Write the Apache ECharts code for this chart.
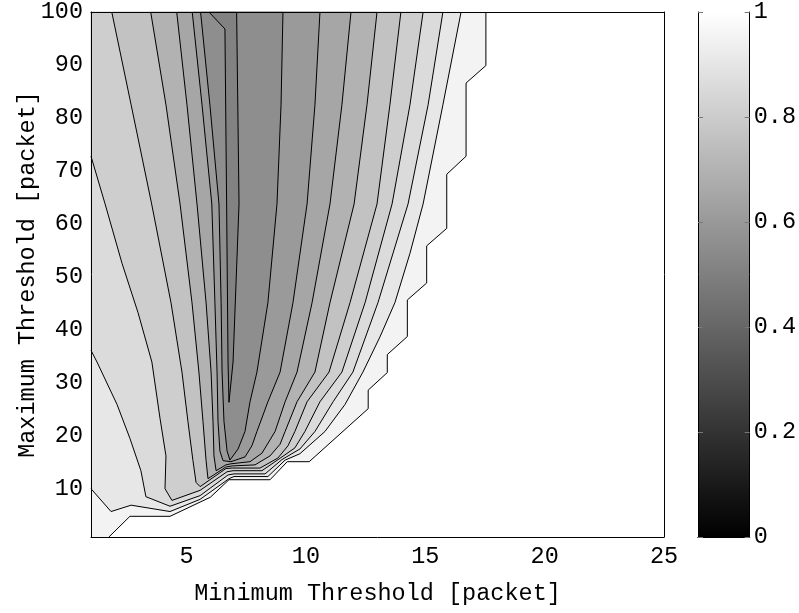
<!DOCTYPE html>
<html><head><meta charset="utf-8">
<script src="https://cdn.jsdelivr.net/npm/echarts@6/dist/echarts.min.js"></script>
<style>html,body{margin:0;padding:0;background:#fff}#c{width:799px;height:613px}</style>
</head><body><div id="c"></div>
<script>
// ---------- data (data coordinates) ----------
const xTicks = [5, 10, 15, 20, 25];
const yTicks = [10, 20, 30, 40, 50, 60, 70, 80, 90, 100];
const xRange = [1, 25];
const yRange = [1, 100];
const cbTicks = [0, 0.2, 0.4, 0.6, 0.8, 1];

// edge of the region that has data (white = no data beyond it)
const dataEdge = [[1.75,1],[2.63,4.9],[4.31,4.9],[6.0,8.5],[6.78,11.8],[8.50,11.8],[9.22,15.2],[10.14,15.2],[12.61,25.2],[12.61,28.7],[13.41,32.0],[13.41,35.4],[14.25,38.8],[14.25,45.7],[15.06,48.9],[15.06,55.9],[15.90,59.2],[15.90,69.4],[16.71,72.8],[16.71,86.6],[17.54,89.9],[17.54,100]];

// contour levels and their traced lines (left branch -> bottom -> right branch)
const levels = [0.55, 0.6, 0.65, 0.7, 0.75, 0.8, 0.85, 0.9, 0.95];
const c055 = [[5.94,100],[6.61,96.8],[6.68,63.8],[6.74,34.0],[6.78,26.4],[6.95,34.0],[7.20,63.8],[7.10,100]];
const c060 = [[5.59,100],[5.98,82.5],[6.36,63.8],[6.45,45.2],[6.49,32.1],[6.57,22.8],[6.70,17.2],[6.82,15.5],[7.16,17.6],[7.45,20.9],[7.66,26.5],[7.95,32.1],[8.41,45.2],[8.79,63.8],[8.96,82.5],[9.04,100]];
const c065 = [[5.24,100],[5.65,82.5],[6.06,63.8],[6.19,45.2],[6.28,32.1],[6.32,22.8],[6.40,17.2],[6.53,15.4],[6.86,15.2],[7.45,16.1],[7.74,18.2],[7.95,20.9],[8.41,26.5],[8.92,32.1],[9.46,45.2],[10.05,63.8],[10.38,82.5],[10.59,100]];
const c070 = [[4.59,100],[5.02,82.5],[5.44,63.8],[5.82,45.2],[6.03,32.1],[6.11,22.8],[6.15,16.3],[6.24,13.5],[6.65,14.6],[6.86,14.8],[7.66,15.2],[8.16,16.8],[8.71,20.9],[9.13,26.5],[9.63,32.1],[10.26,45.2],[11.01,63.8],[11.51,82.5],[11.89,100]];
const c075 = [[3.50,100],[4.14,82.5],[4.73,63.8],[5.23,45.2],[5.52,32.1],[5.69,22.8],[5.82,15.4],[5.90,12.0],[6.65,14.2],[6.91,14.4],[7.87,14.6],[8.50,16.3],[8.92,18.5],[9.13,20.9],[9.63,26.5],[10.38,32.1],[11.01,45.2],[12.02,63.8],[12.56,82.5],[12.98,100]];
const c080 = [[1.87,100],[2.68,82.5],[3.54,63.8],[4.35,45.2],[4.81,32.1],[5.06,22.8],[5.27,15.4],[5.40,11.3],[5.57,10.5],[6.65,13.9],[6.91,14.0],[8.08,14.0],[8.83,15.9],[9.25,18.2],[9.54,20.9],[10.05,26.5],[10.97,32.1],[11.85,45.2],[12.98,63.8],[13.52,82.5],[13.98,100]];
const c085 = [[1,72.8],[1.59,63.8],[2.30,52.6],[2.97,43.3],[3.55,34.0],[3.89,23.4],[4.14,16.3],[4.10,10.1],[4.39,7.9],[5.57,9.8],[6.70,13.3],[6.95,13.5],[8.16,13.5],[8.92,15.85],[9.54,17.8],[9.96,20.9],[10.59,26.5],[11.51,32.1],[12.48,45.2],[13.61,63.8],[14.36,82.5],[14.91,100]];
const c090 = [[1,36.2],[1.25,34.0],[2.09,26.0],[2.63,19.6],[3.09,13.5],[3.30,8.6],[4.31,6.8],[5.57,8.8],[6.74,12.7],[6.99,12.9],[8.29,12.9],[9.0,15.6],[9.75,17.6],[10.38,20.9],[11.14,26.5],[11.97,32.1],[13.02,45.2],[14.28,63.8],[15.12,82.5],[15.74,100]];
const c095 = [[1,10.1],[1.84,5.8],[2.68,7.0],[4.31,5.8],[5.57,8.1],[6.78,12.0],[6.99,12.4],[8.41,12.4],[9.13,15.5],[9.75,16.7],[10.80,20.9],[11.64,26.0],[12.39,32.1],[13.10,38.7],[13.73,45.2],[14.36,54.5],[14.91,63.8],[15.74,82.5],[16.50,100]];
const contours = [c055, c060, c065, c070, c075, c080, c085, c090, c095];

// ---------- build drawing lists ----------
const FONT = '"Liberation Mono", "DejaVu Sans Mono", monospace';
function gray(v) { // MATLAB-like gray(64) colormap, caxis [0,1]
  const idx = Math.min(63, Math.floor(v * 64 + 1e-9));
  const g = Math.round(idx / 63 * 255);
  return 'rgb(' + g + ',' + g + ',' + g + ')';
}
const step = 0.05;
function closeTop(arr) {
  if (arr[0][0] === xRange[0] && arr[0][1] < yRange[1]) return [[xRange[0], yRange[1]]].concat(arr);
  return arr.slice();
}
const fills = [];
fills.push({ poly: [[xRange[0], yRange[0]]].concat(dataEdge, [[xRange[0], yRange[1]]]), color: gray(levels[levels.length - 1]) });
for (let k = contours.length - 1; k >= 0; k--) {
  fills.push({ poly: closeTop(contours[k]), color: gray(levels[k] - step) });
}
const strokes = contours.concat([dataEdge]);

const chart = echarts.init(document.getElementById('c'));
const axisText = { fontFamily: FONT, fontSize: 23.5, color: '#000' };
chart.setOption({
  animation: false,
  backgroundColor: '#fff',
  grid: [
    { left: 91, top: 6, width: 573, height: 531 },
    { left: 698, top: 6, width: 52, height: 531 }
  ],
  xAxis: [
    { gridIndex: 0, type: 'value', min: xRange[0], max: xRange[1], z: 10,
      axisLine: { show: true, lineStyle: { color: '#000', width: 1 } },
      axisTick: { show: false }, splitLine: { show: false },
      axisLabel: Object.assign({ customValues: xTicks, margin: 8 }, axisText),
      name: 'Minimum Threshold [packet]', nameLocation: 'middle', nameGap: 45,
      nameMoveOverlap: false, nameTextStyle: axisText },
    { gridIndex: 0, type: 'value', min: xRange[0], max: xRange[1], position: 'top', z: 10,
      axisLine: { show: true, lineStyle: { color: '#000', width: 1 } },
      axisTick: { show: false }, axisLabel: { show: false }, splitLine: { show: false } },
    { gridIndex: 1, type: 'category', data: [''], position: 'bottom', z: 10,
      axisLine: { show: true, lineStyle: { color: '#000', width: 1 } },
      axisTick: { show: false }, axisLabel: { show: false } },
    { gridIndex: 1, type: 'category', data: [''], position: 'top', z: 10,
      axisLine: { show: true, lineStyle: { color: '#000', width: 1 } },
      axisTick: { show: false }, axisLabel: { show: false } }
  ],
  yAxis: [
    { gridIndex: 0, type: 'value', min: yRange[0], max: yRange[1], z: 10,
      axisLine: { show: true, lineStyle: { color: '#000', width: 1 } },
      axisTick: { show: false }, splitLine: { show: false },
      axisLabel: Object.assign({ customValues: yTicks, margin: 8 }, axisText),
      name: 'Maximum Threshold [packet]', nameLocation: 'middle', nameGap: 51, nameRotate: 90,
      nameMoveOverlap: false, nameTextStyle: axisText },
    { gridIndex: 0, type: 'value', min: yRange[0], max: yRange[1], position: 'right', z: 10,
      axisLine: { show: true, lineStyle: { color: '#000', width: 1 } },
      axisTick: { show: false }, axisLabel: { show: false }, splitLine: { show: false } },
    { gridIndex: 1, type: 'value', min: 0, max: 1, interval: 0.2, position: 'right', z: 10,
      axisLine: { show: true, lineStyle: { color: '#000', width: 1 } },
      axisTick: { show: true, inside: true, length: 5, lineStyle: { color: '#777' } },
      splitLine: { show: false },
      axisLabel: Object.assign({ margin: 4 }, axisText) },
    { gridIndex: 1, type: 'value', min: 0, max: 1, interval: 0.2, position: 'left', z: 10,
      axisLine: { show: true, lineStyle: { color: '#000', width: 1 } },
      axisTick: { show: true, inside: true, length: 5, lineStyle: { color: '#777' } },
      splitLine: { show: false }, axisLabel: { show: false } }
  ],
  series: [
    { type: 'custom', xAxisIndex: 0, yAxisIndex: 0, z: 1, silent: true,
      data: fills.map((f, i) => i),
      renderItem: function (params, api) {
        const it = fills[params.dataIndex];
        return { type: 'polygon', shape: { points: it.poly.map(p => api.coord(p)) },
          style: { fill: it.color, stroke: it.color, lineWidth: 0.5 } };
      } },
    { type: 'custom', xAxisIndex: 0, yAxisIndex: 0, z: 2, silent: true,
      data: strokes.map((s, i) => i),
      renderItem: function (params, api) {
        const s = strokes[params.dataIndex];
        return { type: 'polyline', shape: { points: s.map(p => api.coord(p)) },
          style: { stroke: '#000', lineWidth: 1, fill: null } };
      } },
    { type: 'bar', xAxisIndex: 2, yAxisIndex: 2, silent: true, barWidth: '100%',
      data: [cbTicks[cbTicks.length - 1]],
      itemStyle: { color: new echarts.graphic.LinearGradient(0, 1, 0, 0, [
        { offset: 0, color: '#000' }, { offset: 1, color: '#fff' }]) } }
  ]
});
</script></body></html>
